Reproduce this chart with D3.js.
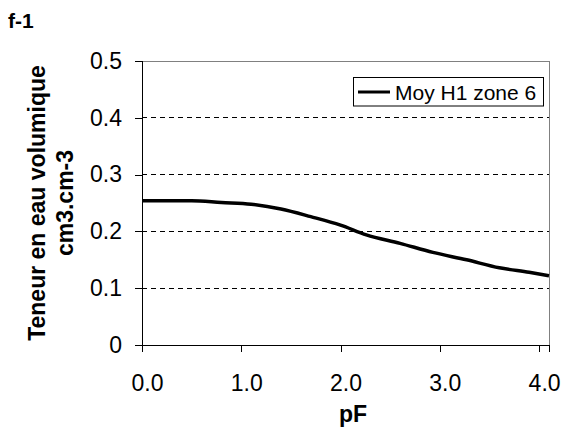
<!DOCTYPE html>
<html>
<head>
<meta charset="utf-8">
<script src="https://cdn.jsdelivr.net/npm/d3@7"></script>
<style>
  body { margin: 0; background: #fff; }
  svg text { font-family: Arial, "Liberation Sans", sans-serif; }
</style>
</head>
<body>
<svg id="chart" width="563" height="429"></svg>
<script>
// courbe de retention
const pF = [0.0, 0.2, 0.5, 0.8, 1.1, 1.4, 1.7, 2.0, 2.26, 2.6, 2.93, 3.27, 3.6, 3.9, 4.1];
const teneur = [0.254, 0.254, 0.254, 0.251, 0.248, 0.2395, 0.226, 0.211, 0.194, 0.179, 0.163, 0.150, 0.136, 0.128, 0.122];
const xTicks = [0, 1, 2, 3, 4];
const yTicks = [0, 0.1, 0.2, 0.3, 0.4, 0.5];
const seriesName = "Moy H1 zone 6";

const svg = d3.select("#chart");
const pLeft = 142, pRight = 549, pTop = 61, pBottom = 345;

const x = d3.scaleLinear().domain([0, 4.1]).range([pLeft, pRight]);
const y = d3.scaleLinear().domain([0, 0.5]).range([pBottom, pTop]);

// titre
svg.append("text").attr("x", 8).attr("y", 28)
  .attr("font-size", 21).attr("font-weight", "bold").text("f-1");

// grille
svg.append("g").selectAll("line")
  .data(yTicks.filter(d => d > 0 && d < 0.5))
  .join("line")
  .attr("x1", pLeft).attr("x2", pRight)
  .attr("y1", d => y(d)).attr("y2", d => y(d))
  .attr("stroke", "#000").attr("stroke-width", 1)
  .attr("stroke-dasharray", "5,4")
  .attr("shape-rendering", "crispEdges");

// cadre
svg.append("rect")
  .attr("x", pLeft).attr("y", pTop)
  .attr("width", pRight - pLeft).attr("height", pBottom - pTop)
  .attr("fill", "none").attr("stroke", "#808080").attr("stroke-width", 1)
  .attr("shape-rendering", "crispEdges");

// axes
const yAxis = svg.append("g").attr("transform", `translate(${pLeft},0)`)
  .call(d3.axisLeft(y).tickValues(yTicks).tickSize(7).tickPadding(13)
    .tickFormat(d => d === 0 ? "0" : d3.format(".1f")(d)));
const xAxis = svg.append("g").attr("transform", `translate(0,${pBottom})`)
  .call(d3.axisBottom(x).tickValues(xTicks).tickSize(7).tickPadding(23)
    .tickFormat(d3.format(".1f")));

[yAxis, xAxis].forEach(g => {
  g.select(".domain").attr("stroke", "#000").attr("shape-rendering", "crispEdges");
  g.selectAll(".tick line").attr("stroke", "#000").attr("shape-rendering", "crispEdges");
  g.selectAll("text").attr("font-size", 23).attr("fill", "#000")
    .attr("font-family", "Arial, 'Liberation Sans', sans-serif");
});
xAxis.selectAll(".tick text").attr("dx", 5);

// titres des axes
svg.append("text").attr("x", 353).attr("y", 422)
  .attr("text-anchor", "middle").attr("font-size", 23).attr("font-weight", "bold").text("pF");

const yl = svg.append("text")
  .attr("transform", "translate(45,203) rotate(-90)")
  .attr("text-anchor", "middle").attr("font-size", 23).attr("font-weight", "bold");
yl.append("tspan").attr("x", 0).attr("dy", 0).text("Teneur en eau volumique");
yl.append("tspan").attr("x", 0).attr("dy", 28).text("cm3.cm-3");

// courbe
const line = d3.line().x((d, i) => x(pF[i])).y(d => y(d)).curve(d3.curveMonotoneX);
svg.append("path").datum(teneur)
  .attr("d", line)
  .attr("fill", "none").attr("stroke", "#000").attr("stroke-width", 3.5);

// legende
const lg = svg.append("g");
lg.append("rect").attr("x", 353.5).attr("y", 77.5).attr("width", 190).attr("height", 28.5)
  .attr("fill", "#fff").attr("stroke", "#000").attr("stroke-width", 1);
lg.append("line").attr("x1", 358).attr("x2", 390).attr("y1", 92).attr("y2", 92)
  .attr("stroke", "#000").attr("stroke-width", 3);
lg.append("text").attr("x", 395).attr("y", 99.5).attr("font-size", 21).text(seriesName);
</script>
</body>
</html>
